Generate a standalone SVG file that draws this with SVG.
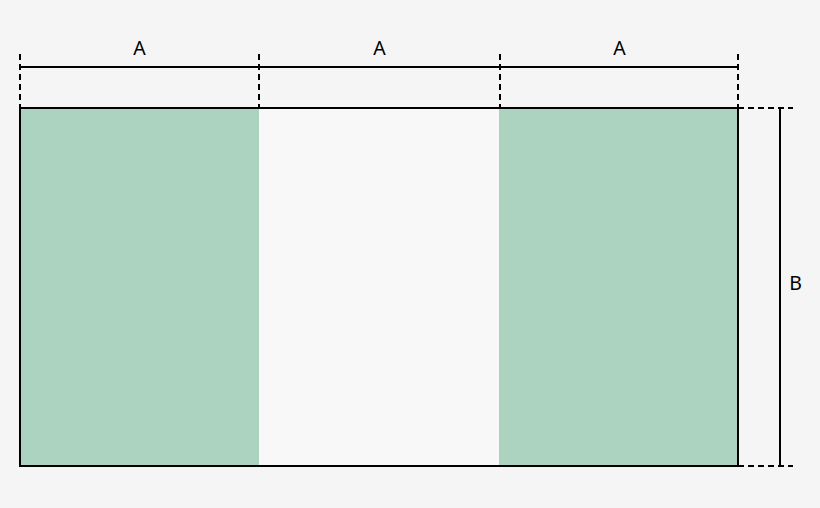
<svg xmlns="http://www.w3.org/2000/svg" width="820" height="508" viewBox="0 0 820 508">
<style>
.dim{stroke:#000;stroke-width:2;fill:none}
.dash{stroke:#000;stroke-width:2;fill:none;stroke-dasharray:6 4}
.lbl{font-family:"Noto Sans","DejaVu Sans",sans-serif;font-size:19.5px;fill:#000;text-anchor:middle}
</style>
<rect x="0" y="0" width="820" height="508" fill="#f5f5f5"/>
<g id="flag">
<rect x="20" y="108" width="239" height="358" fill="#acd3c0"/>
<rect x="259" y="108" width="240" height="358" fill="#f8f8f8"/>
<rect x="499" y="108" width="239" height="358" fill="#acd3c0"/>
<rect x="20" y="108" width="718" height="358" class="dim"/>
</g>
<g id="connectors">
<line x1="20" y1="67" x2="738" y2="67" class="dim"/>
<line x1="20" y1="54" x2="20" y2="108" class="dash"/>
<line x1="259" y1="54" x2="259" y2="108" class="dash"/>
<line x1="500" y1="54" x2="500" y2="108" class="dash"/>
<line x1="738" y1="54" x2="738" y2="108" class="dash"/>
<line x1="738" y1="108" x2="793" y2="108" class="dash"/>
<line x1="738" y1="466" x2="793" y2="466" class="dash"/>
<line x1="780" y1="108" x2="780" y2="466" class="dim"/>
</g>
<g id="labels">
<text x="139.5" y="55" class="lbl">A</text>
<text x="379.5" y="55" class="lbl">A</text>
<text x="619.5" y="55" class="lbl">A</text>
<text x="795.5" y="290" class="lbl">B</text>
</g>
</svg>
